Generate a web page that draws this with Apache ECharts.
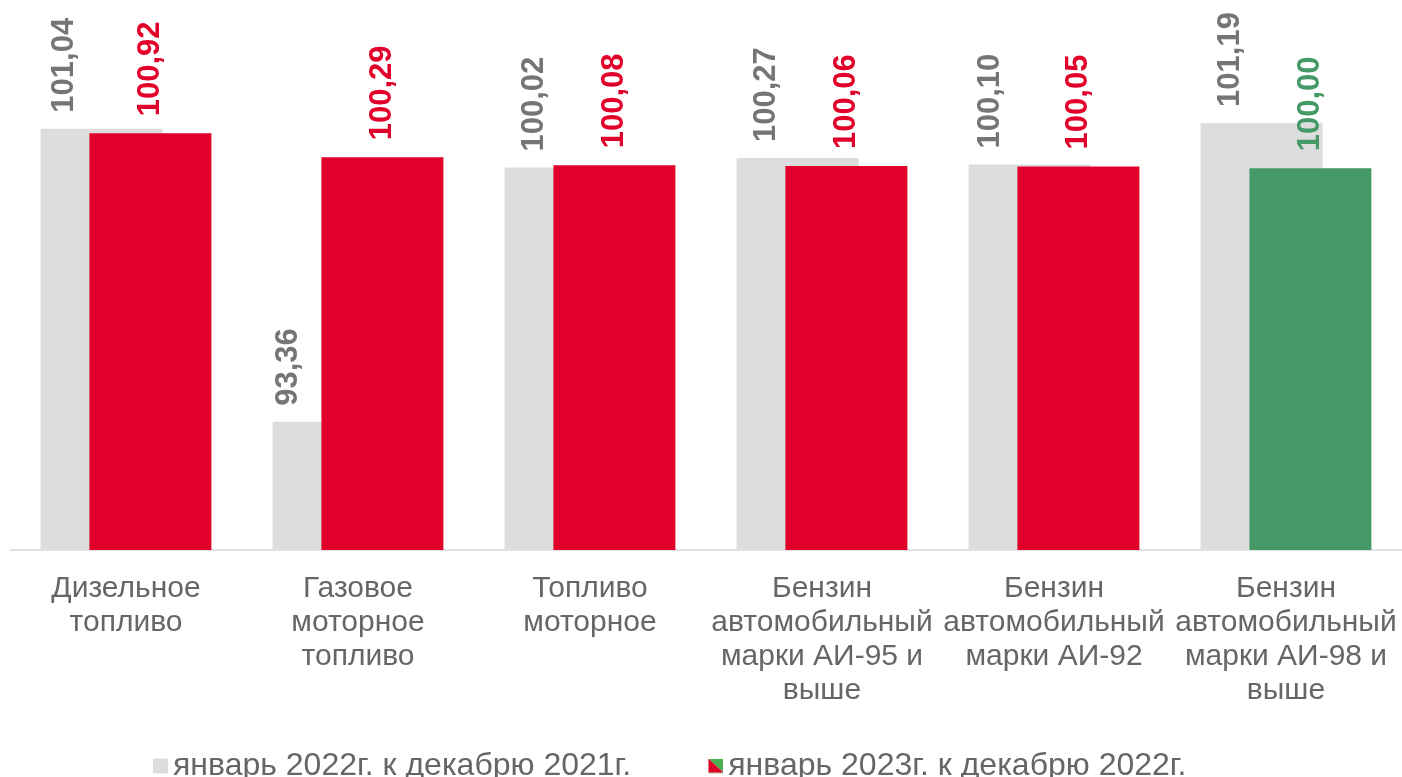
<!DOCTYPE html>
<html><head><meta charset="utf-8">
<script src="https://cdn.jsdelivr.net/npm/echarts@6/dist/echarts.min.js"></script>
<style>html,body{margin:0;padding:0;background:#fff}#c{width:1402px;height:777px}</style>
</head><body><div id="c"></div>
<script>
const categories = ['Дизельное\nтопливо', 'Газовое\nмоторное\nтопливо', 'Топливо\nмоторное', 'Бензин\nавтомобильный\nмарки АИ-95 и\nвыше', 'Бензин\nавтомобильный\nмарки АИ-92', 'Бензин\nавтомобильный\nмарки АИ-98 и\nвыше'];
const jan2022 = [101.04, 93.36, 100.02, 100.27, 100.10, 101.19];
const jan2023 = [100.92, 100.29, 100.08, 100.06, 100.05, 100.00];
const seriesNames = ['январь 2022г. к декабрю 2021г.', 'январь 2023г. к декабрю 2022г.'];

const RED = '#E1002A', GREEN = '#449966', GREY = '#DDDDDD';
const FONT = 'Liberation Sans, Arial, sans-serif';
const fmt = v => v.toFixed(2).replace('.', ',');
const greyShift = [-37, -45, -31, -31, -39, -31];
const iconSvg = 'image://data:image/svg+xml;utf8,' + encodeURIComponent('<svg xmlns="http://www.w3.org/2000/svg" width="16" height="16"><polygon points="0,0 16,0 16,15" fill="#4CAF50"/><polygon points="0,0 16,15 0,15" fill="#E1002A"/><rect x="0" y="15" width="16" height="1" fill="#8B6A2B"/></svg>');

const chart = echarts.init(document.getElementById('c'));
chart.setOption({
  animation: false,
  grid: { left: 10, right: 0, top: 92, bottom: 227 },
  legend: {
    left: 148, top: 745, itemGap: 77, itemWidth: 15, itemHeight: 15,
    textStyle: { fontSize: 32, color: '#666666', fontFamily: FONT },
    data: [ { name: seriesNames[0], icon: 'rect', itemStyle: { color: GREY } },
            { name: seriesNames[1], icon: iconSvg } ]
  },
  xAxis: {
    type: 'category', data: categories,
    axisLine: { lineStyle: { color: '#D9D9D9', width: 1.5 } },
    axisTick: { length: 10, lineStyle: { color: '#D9D9D9', width: 1.5 } },
    axisLabel: { interval: 0, fontSize: 30, lineHeight: 34, color: '#666666', margin: 22, fontFamily: FONT }
  },
  yAxis: { type: 'value', min: 90, max: 102, show: false, splitLine: { show: false } },
  series: [
    { name: seriesNames[0], type: 'bar', barWidth: 122, barGap: '-60%',
      data: jan2022.map((v, i) => ({ value: v, label: { offset: [0, greyShift[i]] } })),
      itemStyle: { color: GREY },
      label: { show: true, position: 'top', rotate: 90, align: 'left', verticalAlign: 'middle', distance: 16,
        fontSize: 31, fontWeight: 'bold', color: '#757575', fontFamily: FONT,
        formatter: p => fmt(p.value) } },
    { name: seriesNames[1], type: 'bar', barWidth: 122,
      data: jan2023.map((v, i) => i === 5 ? { value: v, itemStyle: { color: GREEN }, label: { color: GREEN } } : v),
      itemStyle: { color: RED },
      label: { show: true, position: 'top', rotate: 90, align: 'left', verticalAlign: 'middle', distance: 17,
        fontSize: 31, fontWeight: 'bold', color: RED, fontFamily: FONT,
        formatter: p => fmt(p.value) } }
  ]
});
</script></body></html>
